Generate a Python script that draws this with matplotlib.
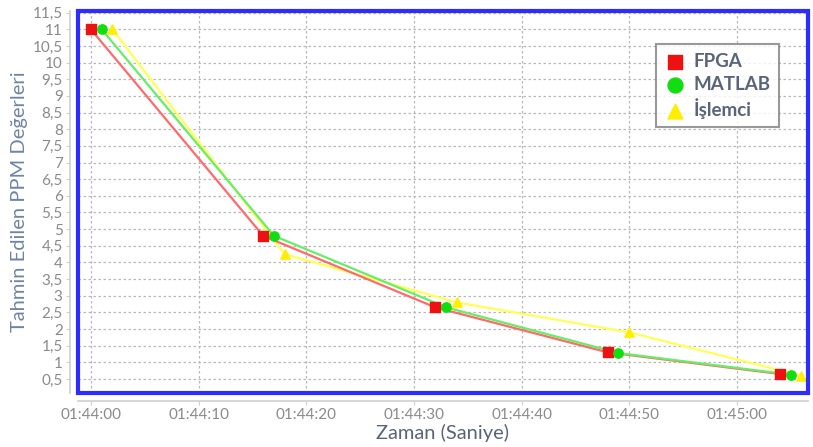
import matplotlib
matplotlib.use("Agg")
import matplotlib.pyplot as plt
from matplotlib.patches import Rectangle
from matplotlib.ticker import FixedLocator, FuncFormatter

# Elapsed seconds after 01:44:00 and estimated PPM values
fpga_t = [0, 16, 32, 48, 64]
fpga_v = [11.0, 4.8, 2.65, 1.3, 0.65]
matlab_t = [1, 17, 33, 49, 65]
matlab_v = [11.0, 4.8, 2.65, 1.28, 0.63]
cpu_t = [2, 18, 34, 50, 66]
cpu_v = [11.0, 4.25, 2.8, 1.9, 0.6]

x_ticks = [0, 10, 20, 30, 40, 50, 60]
x_labels = ["01:44:00", "01:44:10", "01:44:20", "01:44:30", "01:44:40", "01:44:50", "01:45:00"]
y_ticks = [0.5 * i for i in range(1, 24)]

plt.rcParams['font.family'] = ['Lato', 'DejaVu Sans']

fig = plt.figure(figsize=(8.13, 4.47), dpi=100)
ax = fig.add_axes([0.0959, 0.1208, 0.8979, 0.8546])

ax.plot(fpga_t, fpga_v, color="#ff6a6a", lw=1.6, zorder=3)
ax.plot(matlab_t, matlab_v, color="#66ee66", lw=1.6, zorder=3)
ax.plot(cpu_t, cpu_v, color="#ffff55", lw=1.6, zorder=2)
ax.scatter(fpga_t, fpga_v, marker="s", s=45, color="#ee1111", zorder=5, label="FPGA")
ax.scatter(matlab_t, matlab_v, marker="o", s=45, color="#11dd11", zorder=5, label="MATLAB")
ax.scatter(cpu_t, cpu_v, marker="^", s=45, color="#ffee00", zorder=4, label="İşlemci")

ax.set_xlim(-1.2, 66.6)
ax.set_ylim(0.08, 11.55)
ax.xaxis.set_major_locator(FixedLocator(x_ticks))
ax.set_xticklabels(x_labels)
ax.yaxis.set_major_locator(FixedLocator(y_ticks))
ax.yaxis.set_major_formatter(FuncFormatter(lambda v, p: f"{v:g}".replace(".", ",")))

ax.grid(True, color="#b8b8b8", linestyle=(0, (2, 2)), lw=0.9)
ax.set_axisbelow(True)

for side in ("top", "right"):
    ax.spines[side].set_visible(False)
for side in ("left", "bottom"):
    ax.spines[side].set_position(("outward", 6))
    ax.spines[side].set_color("#cfcfcf")
    ax.spines[side].set_linewidth(1.2)

ax.add_patch(Rectangle((0, 0), 1, 1, transform=ax.transAxes, fill=False,
                       edgecolor="#2d2dff", lw=3, clip_on=False, zorder=10))

ax.tick_params(axis="both", colors="#cfcfcf", labelcolor="#8a8a8a", labelsize=11,
               length=3, pad=2)

ax.set_xlabel("Zaman (Saniye)", fontsize=14.5, color="#5a6478", labelpad=1)
ax.set_ylabel("Tahmin Edilen PPM Değerleri", fontsize=14.5, color="#6f84a3", labelpad=3)

leg = ax.legend(loc="upper right", bbox_to_anchor=(0.9726, 0.937), frameon=True,
                fancybox=False, edgecolor="#808080", fontsize=13.5, markerscale=1.6,
                handletextpad=0.35, borderpad=0.45, labelspacing=0.3, handlelength=1.2)
leg.get_frame().set_linewidth(1.5)
for txt in leg.get_texts():
    txt.set_color("#5a6478")
    txt.set_fontweight("bold")

fig.savefig("out.png", dpi=100)
